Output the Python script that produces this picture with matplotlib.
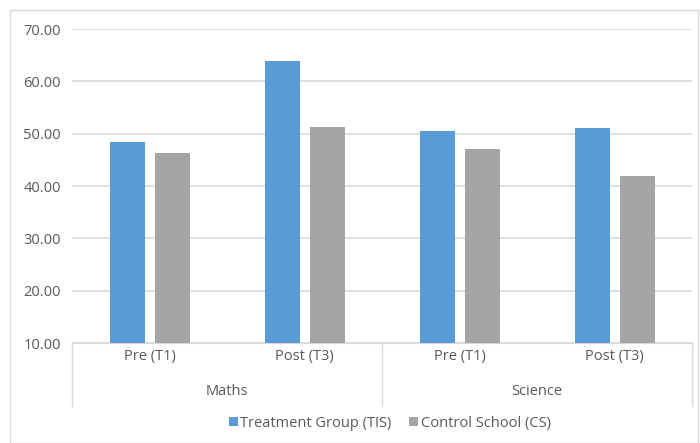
import matplotlib.pyplot as plt
from matplotlib.patches import Rectangle
import numpy as np

plt.rcParams['font.family'] = ['Open Sans', 'DejaVu Sans']

subjects = ["Maths", "Science"]
periods = ["Pre (T1)", "Post (T3)", "Pre (T1)", "Post (T3)"]
tis = [48.5, 63.8, 50.6, 51.1]
cs = [46.4, 51.3, 47.0, 42.0]

blue = "#5B9BD5"
grey = "#A5A5A5"
txt = "#595959"
line_col = "#D9D9D9"
fs = 10.5

fig = plt.figure(figsize=(7, 4.43), dpi=100)
ax = fig.add_axes([0.103, 0.2257, 0.886, 0.7088])

x = np.arange(len(periods))
w = 0.226
off = 0.145
ax.bar(x - off, tis, w, color=blue, label="Treatment Group (TIS)", zorder=3)
ax.bar(x + off, cs, w, color=grey, label="Control School (CS)", zorder=3)

ax.set_ylim(10, 70)
ax.set_xlim(-0.5, 3.5)
ax.set_yticks(range(10, 71, 10))
ax.set_yticklabels([f"{v:.2f}" for v in range(10, 71, 10)], color=txt, fontsize=fs)
ax.tick_params(axis="y", length=0, pad=8)
ax.tick_params(axis="x", length=0)
ax.set_xticks([])
ax.grid(axis="y", color=line_col, linewidth=1.2, zorder=0)
for s in ["top", "right", "left"]:
    ax.spines[s].set_visible(False)
ax.spines["bottom"].set_color(line_col)

trans = ax.get_xaxis_transform()
for i, p in enumerate(periods):
    ax.text(i, -0.042, p, transform=trans, ha="center", va="center", color=txt, fontsize=fs)
for j, s in enumerate(subjects):
    ax.text(2 * j + 0.5, -0.153, s, transform=trans, ha="center", va="center", color=txt, fontsize=fs)
for xs in [-0.5, 1.5, 3.5]:
    ax.plot([xs, xs], [0, -0.2], transform=trans, color=line_col, lw=1, clip_on=False)

leg = fig.legend(loc="center", bbox_to_anchor=(0.557, 0.045), ncol=2, frameon=False,
                 fontsize=fs, handlelength=0.6, handleheight=0.6, handletextpad=0.2,
                 columnspacing=1.2)
for t in leg.get_texts():
    t.set_color(txt)

fig.patches.append(Rectangle((10 / 700, 0), 688 / 700, 433 / 443, transform=fig.transFigure,
                             fill=False, edgecolor=line_col, lw=1))

fig.savefig("out.png", dpi=100)
